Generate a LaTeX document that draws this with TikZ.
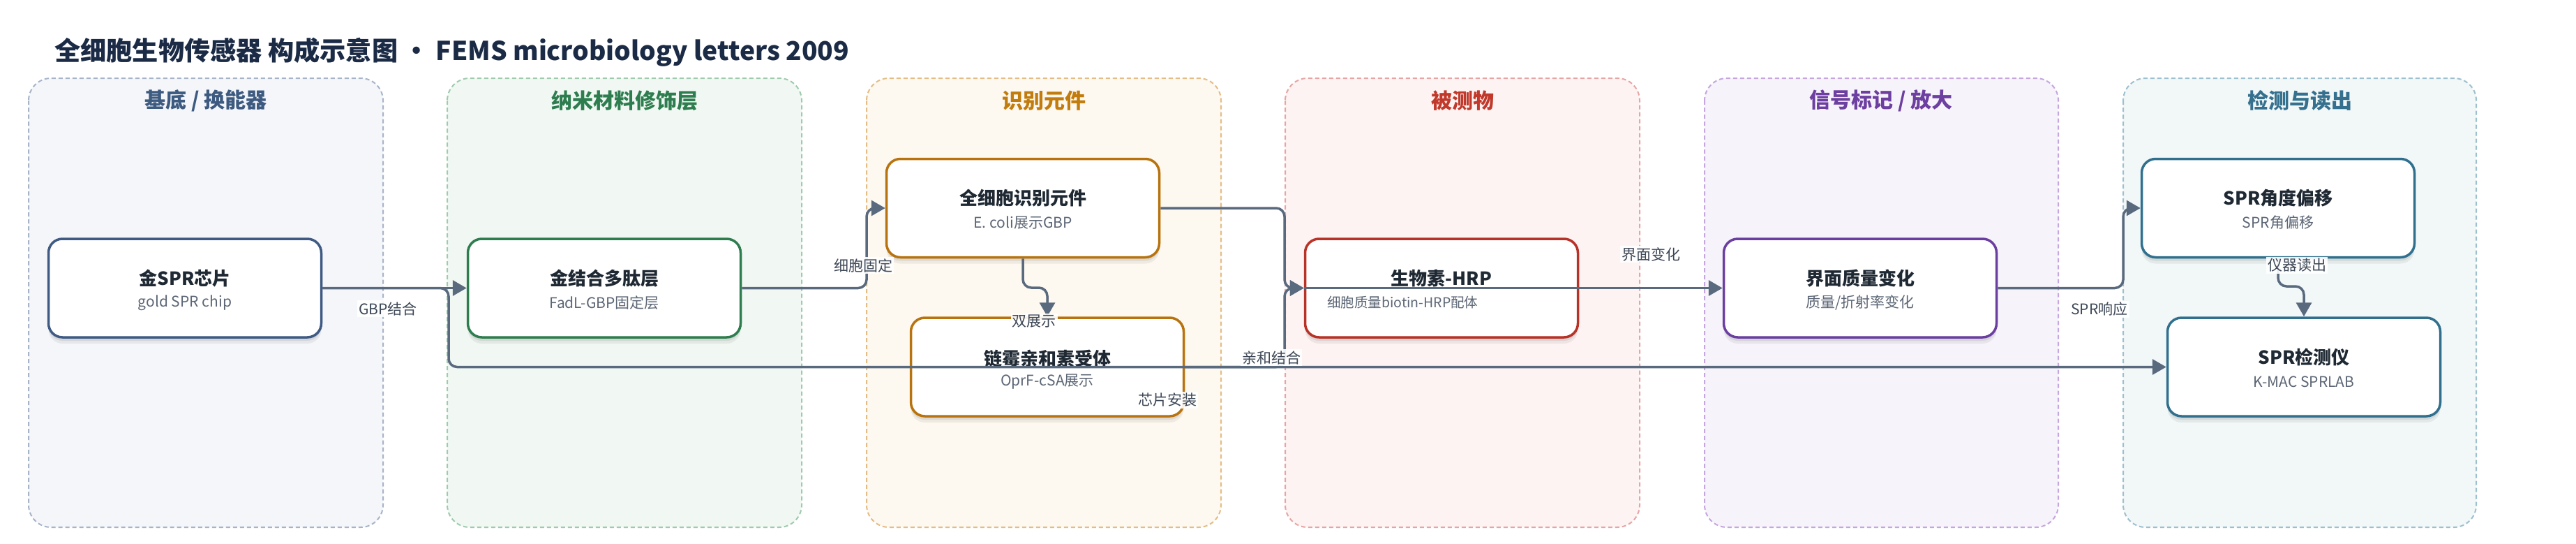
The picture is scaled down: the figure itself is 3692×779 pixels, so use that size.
\documentclass[tikz,border=0pt]{standalone}
\usepackage{fontspec}
\setmainfont{Noto Sans CJK SC}
\usetikzlibrary{arrows.meta,shadows}
\definecolor{titlec}{HTML}{1B2B45}
\definecolor{edgec}{HTML}{5A6A7E}
\definecolor{lblc}{HTML}{3D4756}
\definecolor{nodet}{HTML}{1F2933}
\definecolor{subt}{HTML}{5C6675}
% lanes
\definecolor{laAf}{HTML}{F4F6FA}\definecolor{laAd}{HTML}{A7B4C8}\definecolor{laAt}{HTML}{3D5A80}
\definecolor{laBf}{HTML}{F1F8F3}\definecolor{laBd}{HTML}{9FCAAE}\definecolor{laBt}{HTML}{2E7D4F}
\definecolor{laCf}{HTML}{FDF8F0}\definecolor{laCd}{HTML}{E3BD85}\definecolor{laCt}{HTML}{C27C0E}
\definecolor{laDf}{HTML}{FDF3F2}\definecolor{laDd}{HTML}{E6A5A5}\definecolor{laDt}{HTML}{C0392B}
\definecolor{laEf}{HTML}{F7F3FB}\definecolor{laEd}{HTML}{C5A6DE}\definecolor{laEt}{HTML}{6C3FA0}
\definecolor{laFf}{HTML}{F2F7F8}\definecolor{laFd}{HTML}{9DC0CE}\definecolor{laFt}{HTML}{35718E}
% node borders
\definecolor{bdA}{HTML}{3F5B84}
\definecolor{bdB}{HTML}{2E7D4F}
\definecolor{bdC}{HTML}{B8730E}
\definecolor{bdD}{HTML}{B83227}
\definecolor{bdE}{HTML}{6B3FA0}
\definecolor{bdF}{HTML}{30708E}
\begin{document}
\begin{tikzpicture}[x=1pt,y=-1pt,
  lanebox/.style 2 args={fill=#1, draw=#2, line width=2pt, dash pattern=on 6pt off 4pt, rounded corners=32pt},
  lanetitle/.style={font=\fontsize{30}{36}\selectfont\bfseries, text=#1, inner sep=0pt},
  box/.style={draw=#1, line width=3.5pt, fill=white, rounded corners=20pt,
    minimum width=391pt, minimum height=141pt, inner sep=0pt,
    drop shadow={shadow xshift=0pt, shadow yshift=-9pt, opacity=0.06, fill=black},
    drop shadow={shadow xshift=0pt, shadow yshift=-5pt, opacity=0.07, fill=black}},
  ttl/.style={font=\fontsize{26}{30}\selectfont\bfseries, text=nodet, inner sep=0pt},
  sub/.style={font=\fontsize{21}{25}\selectfont, text=subt, inner sep=0pt},
  edge/.style={draw=edgec, line width=3.5pt, rounded corners=12pt,
    -{Triangle[length=20pt,width=22pt]}},
  lbl/.style={font=\fontsize{21}{25}\selectfont, text=lblc, fill=white, fill opacity=0.9, text opacity=1, inner sep=2pt}
]
\useasboundingbox (0,0) rectangle (3692,779);
\fill[white] (0,0) rectangle (3692,779);

% title
\node[anchor=west, font=\fontsize{37.2}{44}\selectfont\bfseries, text=titlec, inner sep=0pt] (title) at (78,75)
  {全细胞生物传感器 构成示意图 · FEMS microbiology letters 2009};

% lanes
\draw[lanebox={laAf}{laAd}] (41,112) rectangle (549,755);
\draw[lanebox={laBf}{laBd}] (641,112) rectangle (1149,755);
\draw[lanebox={laCf}{laCd}] (1242,112) rectangle (1750,755);
\draw[lanebox={laDf}{laDd}] (1842,112) rectangle (2350,755);
\draw[lanebox={laEf}{laEd}] (2443,112) rectangle (2950,755);
\draw[lanebox={laFf}{laFd}] (3043,112) rectangle (3549,755);

\node[lanetitle=laAt] (t1) at (295,144) {基底 / 换能器};
\node[lanetitle=laBt] (t2) at (895,144) {纳米材料修饰层};
\node[lanetitle=laCt] (t3) at (1496,144) {识别元件};
\node[lanetitle=laDt] (t4) at (2096,144) {被测物};
\node[lanetitle=laEt] (t5) at (2696,144) {信号标记 / 放大};
\node[lanetitle=laFt] (t6) at (3296,144) {检测与读出};

% nodes
\node[box=bdA] (n1) at (265,412.5) {};
\node[box=bdB] (n2) at (866,412.5) {};
\node[box=bdC] (n3) at (1466,298) {};
\node[box=bdC] (n4) at (1501,525.5) {};
\node[box=bdD] (n5) at (2066,412.5) {};
\node[box=bdE] (n6) at (2666,412.5) {};
\node[box=bdF] (n7) at (3265,298) {};
\node[box=bdF] (n8) at (3302,525.5) {};

\node[ttl] (n1a) at ([yshift=14pt]n1.center) {金SPR芯片};
\node[sub] (n1b) at ([yshift=-21pt]n1.center) {gold SPR chip};
\node[ttl] (n2a) at ([yshift=14pt]n2.center) {金结合多肽层};
\node[sub] (n2b) at ([yshift=-21pt]n2.center) {FadL-GBP固定层};
\node[ttl] (n3a) at ([yshift=14pt]n3.center) {全细胞识别元件};
\node[sub] (n3b) at ([yshift=-21pt]n3.center) {E. coli展示GBP};
\node[ttl] (n4a) at ([yshift=12pt]n4.center) {链霉亲和素受体};
\node[sub] (n4b) at ([yshift=-21pt]n4.center) {OprF-cSA展示};
\node[ttl] (n5a) at ([yshift=14pt]n5.center) {生物素-HRP};
\node[sub, anchor=west, font=\fontsize{19.5}{24}\selectfont] (n5b) at ([xshift=-164pt,yshift=-21pt]n5.center) {细胞质量biotin-HRP配体};
\node[ttl] (n6a) at ([yshift=14pt]n6.center) {界面质量变化};
\node[sub] (n6b) at ([yshift=-21pt]n6.center) {质量/折射率变化};
\node[ttl] (n7a) at ([yshift=14pt]n7.center) {SPR角度偏移};
\node[sub] (n7b) at ([yshift=-21pt]n7.center) {SPR角偏移};
\node[ttl] (n8a) at ([yshift=14pt]n8.center) {SPR检测仪};
\node[sub] (n8b) at ([yshift=-21pt]n8.center) {K-MAC SPRLAB};

% edges
\draw[edge] (n1.east) -- (n2.west);
\draw[edge] (n1.east) -- (643,412.5) |- (n8.west);
\draw[edge] (n2.east) -- (1242,412.5) |- (n3.west);
\draw[edge] (n3.south) -- (1466,412) -| (n4.north);
\draw[edge] (n3.east) -- (1841,298) |- (n5.west);
\draw[edge] (n4.east) -- (1841,525.5) |- (n5.west);
\draw[edge] (n5.west) -- (n6.west);
\draw[edge] (n6.east) -- (3043,412.5) |- (n7.west);
\draw[edge] (n7.south) -- (3265,410) -| (n8.north);

% edge labels
\node[lbl] (l1) at (556,442) {GBP结合};
\node[lbl] (l2) at (1237,380) {细胞固定};
\node[lbl] (l3) at (1482,460) {双展示};
\node[lbl] (l4) at (1822,512) {亲和结合};
\node[lbl] (l5) at (2366,364) {界面变化};
\node[lbl] (l6) at (3009,443) {SPR响应};
\node[lbl] (l7) at (3292,380) {仪器读出};
\node[lbl] (l8) at (1673,573) {芯片安装};
\end{tikzpicture}
\end{document}
